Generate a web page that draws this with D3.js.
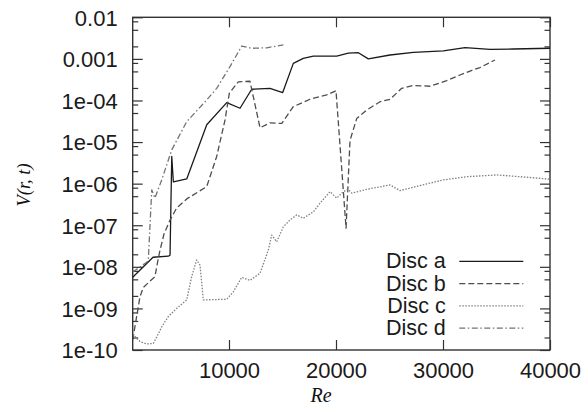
<!DOCTYPE html>
<html>
<head>
<meta charset="utf-8">
<script src="https://cdn.jsdelivr.net/npm/d3@7"></script>
<style>
  html, body { margin: 0; padding: 0; background: #fff; }
  svg { display: block; }
  .tick text { font-family: "Liberation Sans", Arial, sans-serif; font-size: 22px; fill: #1a1a1a; }
</style>
</head>
<body>
<svg id="chart" width="585" height="406"></svg>
<script>
// Reynolds numbers and V(r, t) values for each disc
const reA = [1000, 2900, 4330, 4490, 4650, 4800, 6050, 7920, 9790, 11030, 12120, 13830, 15020, 16010, 16940, 17880, 20070, 21150, 22090, 23020, 25050, 27230, 30030, 32060, 34390, 36570, 40000];
const vA  = [5.6e-9, 1.7e-8, 1.8e-8, 1.9e-8, 4.5e-6, 1.1e-6, 1.3e-6, 2.6e-5, 8.9e-5, 6.5e-5, 1.86e-4, 1.95e-4, 1.55e-4, 7.8e-4, 1.03e-3, 1.17e-3, 1.17e-3, 1.37e-3, 1.41e-3, 1.0e-3, 1.24e-3, 1.44e-3, 1.55e-3, 1.86e-3, 1.7e-3, 1.73e-3, 1.8e-3];

const reB = [1000, 1680, 1990, 3080, 3300, 3550, 3930, 4490, 5110, 6050, 7920, 8850, 9630, 10030, 10870, 11960, 12900, 13830, 14930, 16010, 17570, 19130, 20000, 20940, 21310, 21940, 22870, 24110, 25050, 26140, 27230, 28790, 30350, 31590, 32530, 33460, 34860];
const vB  = [1.75e-10, 1.9e-9, 3.2e-9, 5.8e-9, 1.2e-8, 2.5e-8, 6.2e-8, 1.34e-7, 2.6e-7, 4.3e-7, 8.5e-7, 4.5e-6, 3.4e-5, 1.5e-4, 2.8e-4, 2.9e-4, 2.2e-5, 2.9e-5, 2.8e-5, 7.1e-5, 1.07e-4, 1.36e-4, 1.72e-4, 8.5e-8, 1.1e-5, 3.7e-5, 5.9e-5, 9.3e-5, 1.07e-4, 1.96e-4, 2.3e-4, 2.2e-4, 3.0e-4, 4.1e-4, 5.1e-4, 6.2e-4, 9.4e-4];

const reC = [1000, 1680, 2310, 2930, 3270, 3740, 4330, 5110, 6050, 6510, 6980, 7290, 7600, 9790, 10400, 11190, 11960, 12900, 13670, 13990, 14460, 15080, 15700, 16330, 16940, 17880, 18510, 19440, 20070, 20680, 21150, 21470, 22870, 25050, 25980, 27850, 30030, 32220, 35020, 37200, 40000];
const vC  = [2.4e-10, 1.6e-10, 1.4e-10, 1.44e-10, 2.1e-10, 3.7e-10, 6.4e-10, 1.0e-9, 1.6e-9, 5.8e-9, 1.47e-8, 1.1e-8, 1.6e-9, 1.66e-9, 2.5e-9, 5.6e-9, 4.7e-9, 7.0e-9, 2.5e-8, 5.8e-8, 4.0e-8, 9.2e-8, 1.34e-7, 1.77e-7, 1.47e-7, 2.1e-7, 3.4e-7, 6.4e-7, 4.5e-7, 6.4e-7, 7.3e-7, 5.9e-7, 7.3e-7, 9.3e-7, 6.8e-7, 9.0e-7, 1.23e-6, 1.47e-6, 1.62e-6, 1.47e-6, 1.28e-6];

const reD = [1000, 2340, 2460, 2780, 3080, 3710, 4650, 6050, 7920, 8850, 10090, 11190, 12120, 13520, 15080];
const vD  = [7.5e-9, 1.3e-8, 1.47e-8, 7.1e-7, 4.5e-7, 1.23e-6, 6.5e-6, 3.1e-5, 1.03e-4, 1.96e-4, 6.5e-4, 2.04e-3, 1.8e-3, 1.85e-3, 2.16e-3];

const seriesNames = ["Disc a", "Disc b", "Disc c", "Disc d"];
const xTickValues = [10000, 20000, 30000, 40000];
const yTickValues = [1e-2, 1e-3, 1e-4, 1e-5, 1e-6, 1e-7, 1e-8, 1e-9, 1e-10];
const yTickLabels = ["0.01", "0.001", "1e-04", "1e-05", "1e-06", "1e-07", "1e-08", "1e-09", "1e-10"];

const series = [
  { name: seriesNames[0], re: reA, v: vA, color: "#1a1a1a", dash: null, width: 1.3 },
  { name: seriesNames[1], re: reB, v: vB, color: "#4d4d4d", dash: "6,3", width: 1.3 },
  { name: seriesNames[2], re: reC, v: vC, color: "#808080", dash: "1.5,1.5", width: 1.3 },
  { name: seriesNames[3], re: reD, v: vD, color: "#737373", dash: "6,2.5,1.5,2.5", width: 1.3 }
];

const plotLeft = 132.7, plotRight = 550, plotTop = 17.3, plotBottom = 350;
const svg = d3.select("#chart");

const x = d3.scaleLinear().domain([1000, 40000]).range([plotLeft, plotRight]);
const y = d3.scaleLog().domain([1e-10, 1e-2]).range([plotBottom, plotTop]);

// minor ticks at 2, 5 and 8 within each decade
const yMinor = [];
for (let e = -10; e < -2; e++) [2, 5, 8].forEach(m => yMinor.push(m * Math.pow(10, e)));

const frameColor = "#333";

function styleAxis(g) {
  g.select(".domain").remove();
  g.selectAll(".tick line").attr("stroke", frameColor).attr("stroke-width", 1.2);
}

// left axis with labels
svg.append("g").attr("transform", `translate(${plotLeft},0)`)
  .call(d3.axisLeft(y).tickValues(yTickValues)
    .tickFormat((d, i) => yTickLabels[i]).tickSizeInner(-10).tickSizeOuter(0).tickPadding(15))
  .call(styleAxis)
  .call(g => g.selectAll(".tick text").attr("dy", "0.36em"));
svg.append("g").attr("transform", `translate(${plotLeft},0)`)
  .call(d3.axisLeft(y).tickValues(yMinor).tickFormat("").tickSizeInner(-5.5).tickSizeOuter(0))
  .call(styleAxis);

// right mirror axis
svg.append("g").attr("transform", `translate(${plotRight},0)`)
  .call(d3.axisRight(y).tickValues(yTickValues).tickFormat("").tickSizeInner(-10).tickSizeOuter(0))
  .call(styleAxis);
svg.append("g").attr("transform", `translate(${plotRight},0)`)
  .call(d3.axisRight(y).tickValues(yMinor).tickFormat("").tickSizeInner(-5.5).tickSizeOuter(0))
  .call(styleAxis);

// bottom axis with labels
svg.append("g").attr("transform", `translate(0,${plotBottom})`)
  .call(d3.axisBottom(x).tickValues(xTickValues).tickFormat(d3.format("d"))
    .tickSizeInner(-10).tickSizeOuter(0).tickPadding(12.4))
  .call(styleAxis);

// top mirror axis
svg.append("g").attr("transform", `translate(0,${plotTop})`)
  .call(d3.axisTop(x).tickValues(xTickValues).tickFormat("").tickSizeInner(-10).tickSizeOuter(0))
  .call(styleAxis);

// plot frame
svg.append("rect")
  .attr("x", plotLeft).attr("y", plotTop)
  .attr("width", plotRight - plotLeft).attr("height", plotBottom - plotTop)
  .attr("fill", "none").attr("stroke", frameColor).attr("stroke-width", 1.4);

// data lines
svg.append("clipPath").attr("id", "plotClip")
  .append("rect").attr("x", plotLeft).attr("y", plotTop)
  .attr("width", plotRight - plotLeft).attr("height", plotBottom - plotTop);

const line = d3.line().x(d => x(d[0])).y(d => y(d[1]));
const plot = svg.append("g").attr("clip-path", "url(#plotClip)");
series.forEach(s => {
  plot.append("path")
    .datum(s.re.map((r, i) => [r, s.v[i]]))
    .attr("d", line)
    .attr("fill", "none")
    .attr("stroke", s.color)
    .attr("stroke-width", s.width)
    .attr("stroke-dasharray", s.dash)
    .attr("stroke-linejoin", "round");
});

// key
const key = svg.append("g");
series.forEach((s, i) => {
  const by = 268.3 + i * 22.3;
  key.append("text")
    .attr("x", 445.7).attr("y", by)
    .attr("text-anchor", "end")
    .style("font-family", "'Liberation Sans', Arial, sans-serif")
    .style("font-size", "21.5px")
    .attr("fill", "#1a1a1a")
    .text(s.name);
  key.append("line")
    .attr("x1", 459.3).attr("x2", 523.3)
    .attr("y1", by - 7).attr("y2", by - 7)
    .attr("stroke", s.color)
    .attr("stroke-width", s.width)
    .attr("stroke-dasharray", s.dash);
});

// axis titles
svg.append("text")
  .attr("x", 321).attr("y", 402)
  .attr("text-anchor", "middle")
  .style("font-family", "'Liberation Serif', 'Times New Roman', serif")
  .style("font-style", "italic")
  .style("font-size", "20px")
  .attr("fill", "#111")
  .text("Re");

svg.append("text")
  .attr("transform", "translate(30,185) rotate(-90)")
  .attr("text-anchor", "middle")
  .style("font-family", "'Liberation Serif', 'Times New Roman', serif")
  .style("font-style", "italic")
  .style("font-size", "18.5px")
  .attr("fill", "#111")
  .text("V(r, t)");
</script>
</body>
</html>
